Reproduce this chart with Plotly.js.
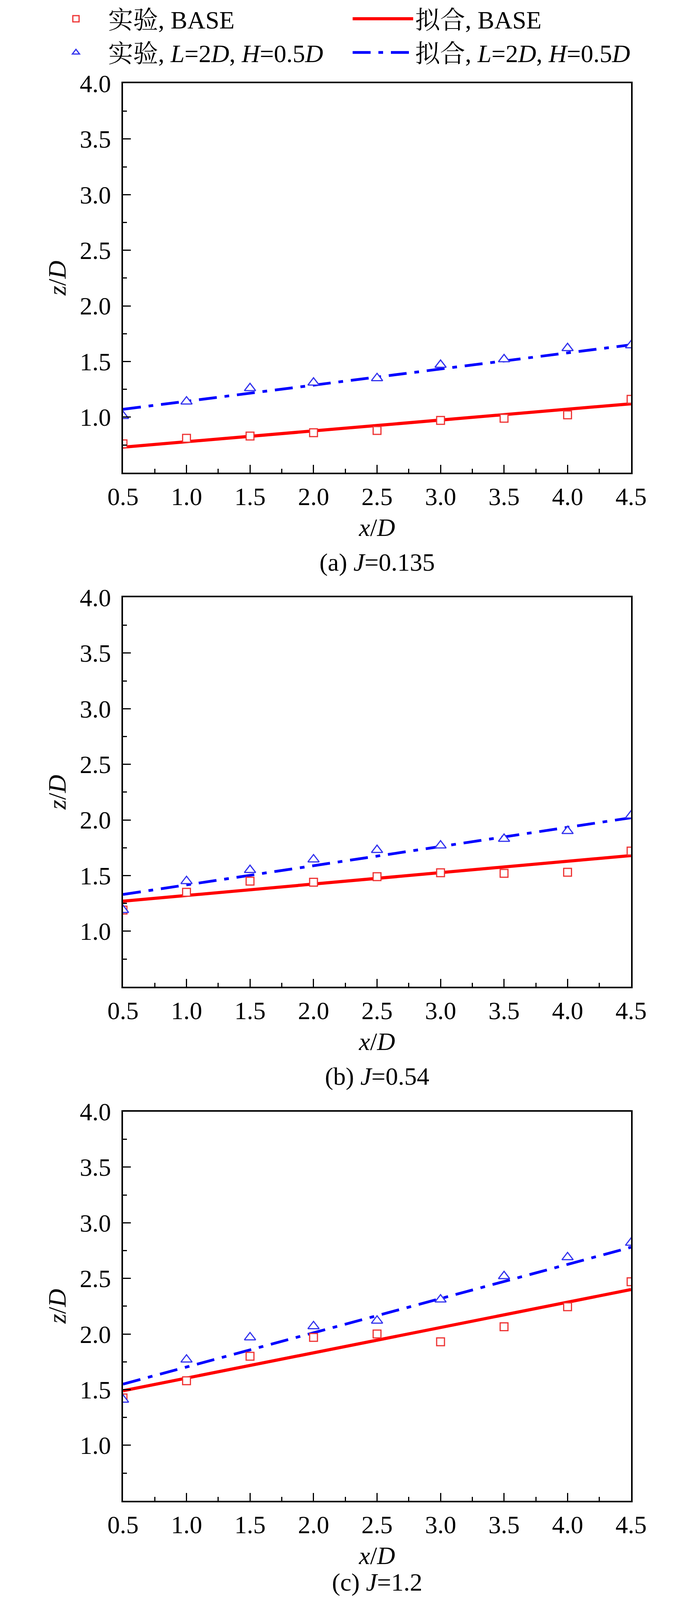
<!DOCTYPE html>
<html>
<head>
<meta charset="utf-8">
<script src="https://cdn.plot.ly/plotly-3.0.1.min.js"></script>
<style>html,body{margin:0;padding:0;background:#fff;overflow:hidden;}</style>
</head>
<body>
<div id="chart" style="width:1772px;"></div>
<script>
// x positions (x/D)
const xData = [0.5, 1.0, 1.5, 2.0, 2.5, 3.0, 3.5, 4.0, 4.5];
const xFit = [0.5, 4.5];
const xTicks = [0.5, 1.0, 1.5, 2.0, 2.5, 3.0, 3.5, 4.0, 4.5];
const yTicks = [1.0, 1.5, 2.0, 2.5, 3.0, 3.5, 4.0];

// (a) J=0.135
const aBaseExp = [0.76, 0.81, 0.83, 0.86, 0.88, 0.97, 0.99, 1.02, 1.16];
const aBaseFit = [0.73, 1.12];
const aLHExp   = [1.01, 1.14, 1.26, 1.31, 1.35, 1.47, 1.52, 1.62, 1.645];
const aLHFit   = [1.07, 1.65];

// (b) J=0.54
const bBaseExp = [1.19, 1.35, 1.45, 1.44, 1.49, 1.525, 1.52, 1.53, 1.72];
const bBaseFit = [1.27, 1.68];
const bLHExp   = [1.19, 1.45, 1.55, 1.645, 1.73, 1.77, 1.83, 1.90, 2.04];
const bLHFit   = [1.33, 2.02];

// (c) J=1.2
const cBaseExp = [1.425, 1.58, 1.80, 1.97, 2.00, 1.93, 2.065, 2.245, 2.47];
const cBaseFit = [1.49, 2.40];
const cLHExp   = [1.41, 1.77, 1.97, 2.07, 2.12, 2.31, 2.52, 2.69, 2.82];
const cLHFit   = [1.55, 2.78];

const names = ['实验, BASE', '拟合, BASE',
  '实验, <i>L</i>=2<i>D</i>, <i>H</i>=0.5<i>D</i>',
  '拟合, <i>L</i>=2<i>D</i>, <i>H</i>=0.5<i>D</i>'];
const captions = ['(a) <i>J</i>=0.135', '(b) <i>J</i>=0.54', '(c) <i>J</i>=1.2'];

const panels = [
  {be: aBaseExp, bf: aBaseFit, le: aLHExp, lf: aLHFit},
  {be: bBaseExp, bf: bBaseFit, le: bLHExp, lf: bLHFit},
  {be: cBaseExp, bf: cBaseFit, le: cLHExp, lf: cLHFit}
];

const RED = '#ff0000', BLUE = '#0000ff';
const FONT = 'Liberation Serif, Times New Roman, Noto Serif CJK SC, Noto Sans CJK SC, serif';
const FS = 64;

// reference geometry (px of a 1772 x 4298 figure), used as fractions
const W = 1772, H = 4298;
const figH = Math.min(H, window.innerHeight || H);
document.getElementById('chart').style.height = figH + 'px';
const plotL = 315, plotR = 1616;
const tops = [212, 1597, 2982];
const plotH = 1049;
const capY = [1502, 2887, 4250];

const traces = [];
panels.forEach((p, i) => {
  const xa = i === 0 ? 'x' : 'x' + (i + 1);
  const ya = i === 0 ? 'y' : 'y' + (i + 1);
  const show = i === 0;
  traces.push({x: xFit, y: p.bf, xaxis: xa, yaxis: ya, mode: 'lines', name: names[1],
    line: {color: RED, width: 8}, showlegend: show, legendrank: 2});
  traces.push({x: xFit, y: p.lf, xaxis: xa, yaxis: ya, mode: 'lines', name: names[3],
    line: {color: BLUE, width: 7, dash: '46px,20px,12px,20px'}, showlegend: show, legendrank: 4});
  traces.push({x: xData, y: p.be, xaxis: xa, yaxis: ya, mode: 'markers', name: names[0],
    marker: {symbol: 'square', size: 20, color: '#ffffff', line: {color: '#ee3333', width: 3}},
    showlegend: show, legendrank: 1});
  traces.push({x: xData, y: p.le, xaxis: xa, yaxis: ya, mode: 'markers', name: names[2],
    marker: {symbol: 'triangle-up', size: 25, color: '#ffffff', line: {color: '#3333ee', width: 3}},
    showlegend: show, legendrank: 3});
});

const layout = {
  width: W, height: figH,
  margin: {l: 0, r: 0, t: 0, b: 0},
  paper_bgcolor: '#ffffff', plot_bgcolor: '#ffffff',
  font: {family: FONT, size: FS, color: '#000000'},
  showlegend: true,
  legend: {
    orientation: 'h', x: 112 / W, xanchor: 'left', y: 1.003, yanchor: 'top',
    entrywidth: 616, entrywidthmode: 'pixels', traceorder: 'normal',
    font: {family: FONT, size: FS, color: '#000000'},
    bgcolor: 'rgba(0,0,0,0)', itemwidth: 155
  },
  annotations: []
};

panels.forEach((p, i) => {
  const sfx = i === 0 ? '' : String(i + 1);
  const top = tops[i], bot = tops[i] + plotH;
  layout['xaxis' + sfx] = {
    domain: [plotL / W, plotR / W], anchor: 'y' + sfx,
    range: [0.5, 4.5], tickvals: xTicks, tickformat: '.1f',
    ticks: 'inside', ticklen: 20, tickwidth: 3, tickcolor: '#000',
    minor: {dtick: 0.25, tick0: 0.5, ticks: 'inside', ticklen: 10, tickwidth: 3, tickcolor: '#000'},
    showline: true, linewidth: 4, linecolor: '#000', mirror: true,
    showgrid: false, zeroline: false, ticklabelstandoff: 2,
    tickfont: {family: FONT, size: FS},
    title: {text: '<i>x</i>/<i>D</i>', font: {family: FONT, size: FS}, standoff: 22}
  };
  layout['yaxis' + sfx] = {
    domain: [1 - bot / H, 1 - top / H], anchor: 'x' + sfx,
    range: [0.5, 4.0], tickvals: yTicks, tickformat: '.1f',
    ticks: 'inside', ticklen: 20, tickwidth: 3, tickcolor: '#000',
    minor: {dtick: 0.25, tick0: 0.5, ticks: 'inside', ticklen: 10, tickwidth: 3, tickcolor: '#000'},
    showline: true, linewidth: 4, linecolor: '#000', mirror: true,
    showgrid: false, zeroline: false, ticklabelstandoff: 14,
    tickfont: {family: FONT, size: FS},
    title: {text: '<i>z</i>/<i>D</i>', font: {family: FONT, size: FS}, standoff: 16}
  };
  layout.annotations.push({
    text: captions[i], xref: 'paper', yref: 'paper',
    x: (plotL + plotR) / 2 / W, y: 1 - capY[i] / H, xanchor: 'center', yanchor: 'middle',
    showarrow: false, font: {family: FONT, size: FS, color: '#000'}
  });
});

Plotly.newPlot('chart', traces, layout, {staticPlot: true});
</script>
</body>
</html>
